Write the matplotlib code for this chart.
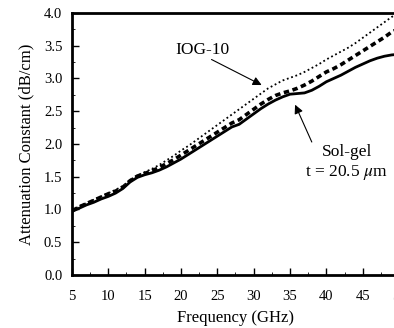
import matplotlib
matplotlib.use("Agg")
import matplotlib.pyplot as plt
from matplotlib.ticker import MultipleLocator, FormatStrFormatter

freq = list(range(5, 51))
solgel = [0.97, 1.02, 1.07, 1.11, 1.16, 1.20, 1.25, 1.32, 1.42, 1.49, 1.53, 1.56, 1.60, 1.65,
          1.71, 1.77, 1.84, 1.91, 1.98, 2.05, 2.12, 2.19, 2.26, 2.30, 2.38, 2.46, 2.54, 2.61,
          2.67, 2.72, 2.76, 2.77, 2.78, 2.82, 2.88, 2.95, 3.00, 3.05, 3.11, 3.17, 3.22, 3.27,
          3.31, 3.34, 3.36, 3.37]
middle = [0.98, 1.04, 1.09, 1.14, 1.19, 1.24, 1.28, 1.34, 1.44, 1.51, 1.55, 1.59, 1.64, 1.70,
          1.76, 1.83, 1.90, 1.97, 2.04, 2.11, 2.18, 2.25, 2.32, 2.37, 2.45, 2.53, 2.61, 2.68,
          2.74, 2.78, 2.81, 2.85, 2.90, 2.96, 3.03, 3.10, 3.15, 3.21, 3.28, 3.35, 3.42, 3.49,
          3.56, 3.63, 3.71, 3.76]
iog10 = [0.99, 1.05, 1.10, 1.15, 1.20, 1.25, 1.30, 1.36, 1.45, 1.52, 1.57, 1.62, 1.68, 1.75,
         1.82, 1.90, 1.97, 2.05, 2.13, 2.21, 2.29, 2.37, 2.45, 2.53, 2.61, 2.69, 2.77, 2.85,
         2.91, 2.97, 3.01, 3.05, 3.10, 3.16, 3.22, 3.29, 3.35, 3.41, 3.47, 3.54, 3.62, 3.70,
         3.78, 3.86, 3.94, 4.00]

plt.rcParams['font.family'] = ['Liberation Serif', 'DejaVu Serif']
plt.rcParams['mathtext.fontset'] = 'stix'

fig = plt.figure(figsize=(3.94, 3.28), dpi=100)
ax = fig.add_axes([0.1827, 0.1616, 0.830, 0.7988])

ax.plot(freq, iog10, color='black', linestyle=(0, (1, 1.5)), linewidth=1.3)
ax.plot(freq, middle, color='black', linestyle=(0, (1.5, 1)), linewidth=2.6)
ax.plot(freq, solgel, color='black', linestyle='-', linewidth=2.0)

ax.set_xlim(5, 50)
ax.set_ylim(0, 4.0)
ax.xaxis.set_major_locator(MultipleLocator(5))
ax.xaxis.set_minor_locator(MultipleLocator(2.5))
ax.yaxis.set_major_locator(MultipleLocator(0.5))
ax.yaxis.set_minor_locator(MultipleLocator(0.25))
ax.yaxis.set_major_formatter(FormatStrFormatter('%.1f'))
ax.tick_params(which='major', direction='in', length=5, width=1, labelsize=10.5)
ax.tick_params(which='minor', direction='in', length=2.5, width=0.6)
ax.tick_params(axis='x', pad=11)
ax.tick_params(axis='y', pad=7)
for s in ax.spines.values():
    s.set_linewidth(2)

ax.set_xlabel('Frequency (GHz)', fontsize=12, labelpad=5)
ax.set_ylabel('Attenuation Constant (dB/cm)', fontsize=12, labelpad=7)

arrow = dict(arrowstyle='-|>', color='black', lw=0.8, mutation_scale=13,
             shrinkA=0, shrinkB=0)
ax.text(22.9, 3.43, 'IOG-10', fontsize=12.5, ha='center', va='center')
ax.annotate('', xy=(31.1, 2.90), xytext=(24.2, 3.29), arrowprops=arrow)
ax.text(42.8, 1.88, 'Sol-gel', fontsize=12.5, ha='center', va='center')
ax.text(42.8, 1.57, 't = 20.5 $\\mu$m', fontsize=12.5, ha='center', va='center')
ax.annotate('', xy=(35.7, 2.60), xytext=(38.0, 2.03), arrowprops=arrow)

fig.savefig('out.png', dpi=100)
